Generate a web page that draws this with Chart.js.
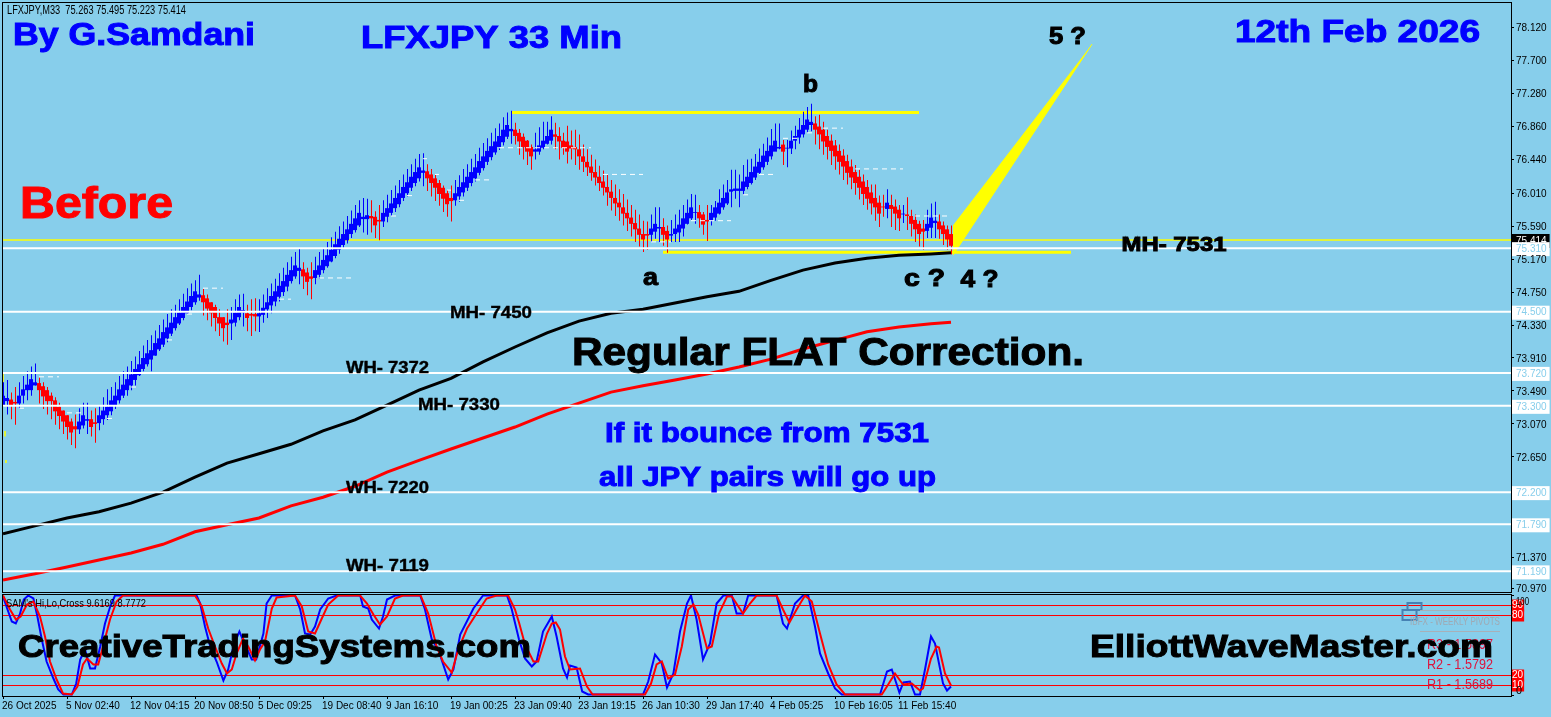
<!DOCTYPE html>
<html><head><meta charset="utf-8"><title>LFXJPY 33 Min</title>
<script src="https://cdn.jsdelivr.net/npm/chart.js@4/dist/chart.umd.min.js"></script>
<style>
html,body{margin:0;padding:0;background:#87CEEB;overflow:hidden}
#wrap{position:relative;width:1551px;height:717px;background:#87CEEB}
canvas{position:absolute;left:0;top:0}
</style></head><body><div id="wrap"><canvas id="main" width="1551" height="717"></canvas><canvas id="osc" width="1551" height="717"></canvas></div>
<script>
const highs=[73.60,73.63,73.47,73.54,73.60,73.68,73.74,73.80,73.84,73.66,
73.60,73.54,73.47,73.41,73.34,73.24,73.18,73.14,73.19,73.27,
73.34,73.34,73.24,73.27,73.31,73.41,73.51,73.54,73.60,73.68,
73.74,73.80,73.87,73.93,74.00,74.07,74.14,74.20,74.26,74.33,
74.40,74.47,74.53,74.59,74.66,74.73,74.80,74.86,74.90,74.97,
74.79,74.72,74.62,74.59,74.53,74.43,74.53,74.56,74.66,74.72,
74.73,74.59,74.66,74.67,74.66,74.72,74.80,74.86,74.92,74.99,
75.06,75.13,75.20,75.26,75.30,75.13,75.06,75.13,75.20,75.26,
75.30,75.39,75.45,75.52,75.59,75.65,75.72,75.79,75.86,75.92,
75.95,75.94,75.92,75.78,75.86,75.92,75.99,76.05,76.11,76.18,
76.25,76.32,76.38,76.45,76.51,76.52,76.38,76.32,76.25,76.18,
76.11,76.05,76.11,76.18,76.24,76.32,76.38,76.45,76.51,76.59,
76.65,76.71,76.78,76.84,76.90,76.98,77.04,77.06,76.91,76.83,
76.77,76.69,76.63,76.78,76.85,76.92,76.92,76.99,76.91,76.85,
76.78,76.87,76.81,76.82,76.76,76.63,76.57,76.50,76.44,76.36,
76.30,76.25,76.18,76.12,76.06,76.00,75.93,75.86,75.80,75.74,
75.66,75.65,75.74,75.83,75.83,75.69,75.60,75.67,75.74,75.80,
75.86,75.93,76.00,75.99,75.86,75.77,75.86,75.86,75.91,76.06,
76.12,76.18,76.31,76.31,76.25,76.37,76.44,76.45,76.51,76.58,
76.64,76.72,76.83,76.90,76.90,76.69,76.69,76.81,76.87,76.97,
77.05,77.11,77.15,76.99,77.01,76.92,76.82,76.76,76.69,76.63,
76.57,76.50,76.44,76.37,76.31,76.25,76.18,76.12,76.12,75.98,
75.99,76.06,75.99,75.93,75.86,75.86,75.96,75.80,75.74,75.66,
75.67,75.80,75.88,75.90,75.74,75.65,75.60,75.60];
const lows=[73.29,73.19,73.13,73.06,73.26,73.33,73.37,73.43,73.56,73.33,
73.26,73.19,73.13,73.06,73.00,72.94,72.87,72.80,72.76,72.94,
73.01,72.94,72.91,72.83,72.99,73.06,73.12,73.18,73.26,73.33,
73.40,73.43,73.50,73.56,73.68,73.74,73.80,73.74,73.94,74.00,
74.05,74.11,74.19,74.26,74.33,74.39,74.47,74.52,74.59,74.64,
74.45,74.39,74.31,74.25,74.19,74.12,74.08,74.14,74.31,74.39,
74.31,74.25,74.19,74.25,74.24,74.36,74.42,74.48,74.57,74.63,
74.70,74.76,74.86,74.92,74.85,74.79,74.71,74.66,74.85,74.92,
74.99,75.06,75.13,75.18,75.24,75.31,75.37,75.44,75.51,75.58,
75.51,75.48,75.51,75.44,75.41,75.58,75.64,75.72,75.77,75.83,
75.91,75.97,76.04,76.10,76.16,76.10,76.04,75.97,75.91,75.85,
75.77,75.71,75.65,75.85,75.90,75.97,76.04,76.10,76.16,76.24,
76.30,76.37,76.43,76.50,76.56,76.62,76.70,76.64,76.63,76.50,
76.44,76.37,76.31,76.44,76.50,76.57,76.63,76.63,76.57,76.44,
76.50,76.39,76.44,76.37,76.31,76.28,76.23,76.17,76.11,76.04,
75.98,75.85,75.79,75.72,75.66,75.60,75.53,75.46,75.39,75.33,
75.26,75.29,75.39,75.43,75.39,75.34,75.25,75.39,75.39,75.39,
75.46,75.61,75.67,75.62,75.57,75.48,75.40,75.60,75.66,75.74,
75.80,75.86,75.83,75.94,75.83,75.99,76.06,76.12,76.18,76.25,
76.31,76.37,76.44,76.57,76.57,76.37,76.34,76.51,76.57,76.64,
76.72,76.78,76.80,76.63,76.57,76.50,76.44,76.37,76.31,76.25,
76.18,76.12,76.06,75.99,75.93,75.86,75.80,75.74,75.66,75.58,
75.71,75.69,75.58,75.54,75.53,75.63,75.54,75.46,75.39,75.33,
75.29,75.44,75.44,75.44,75.43,75.35,75.29,75.23];
const bodyHigh=[73.43,73.40,73.38,73.35,73.43,73.51,73.57,73.64,73.60,73.59,
73.55,73.50,73.43,73.37,73.29,73.24,73.18,73.10,73.04,73.10,
73.18,73.13,73.13,73.09,73.18,73.24,73.29,73.37,73.43,73.51,
73.57,73.64,73.70,73.77,73.83,73.91,73.97,74.01,74.10,74.16,
74.24,74.30,74.36,74.43,74.49,74.56,74.63,74.70,74.76,74.72,
74.71,74.67,74.62,74.56,74.43,74.43,74.36,74.40,74.49,74.56,
74.52,74.48,74.47,74.47,74.48,74.55,74.62,74.70,74.76,74.83,
74.89,74.97,75.03,75.09,75.06,75.04,75.00,74.95,75.03,75.09,
75.16,75.22,75.29,75.36,75.43,75.49,75.55,75.62,75.69,75.76,
75.71,75.73,75.72,75.71,75.67,75.76,75.82,75.88,75.95,76.01,
76.09,76.15,76.22,76.28,76.34,76.30,76.29,76.25,76.20,76.14,
76.08,76.01,75.95,76.01,76.09,76.15,76.22,76.28,76.34,76.42,
76.48,76.55,76.61,76.67,76.74,76.82,76.88,76.83,76.82,76.78,
76.73,76.68,76.60,76.57,76.62,76.68,76.74,76.82,76.76,76.74,
76.68,76.67,76.62,76.60,76.57,76.48,76.41,76.35,76.28,76.22,
76.16,76.09,76.03,75.95,75.89,75.83,75.76,75.70,75.63,75.56,
75.49,75.49,75.56,75.62,75.58,75.58,75.53,75.49,75.56,75.61,
75.69,75.76,75.83,75.77,75.77,75.74,75.67,75.76,75.83,75.89,
75.95,76.02,76.06,76.07,76.07,76.16,76.22,76.28,76.35,76.41,
76.49,76.55,76.62,76.68,76.60,76.63,76.59,76.68,76.74,76.82,
76.88,76.95,76.92,76.90,76.86,76.82,76.74,76.68,76.62,76.55,
76.49,76.42,76.35,76.28,76.22,76.16,76.09,76.02,75.95,75.89,
75.84,75.89,75.86,75.84,75.80,75.75,75.74,75.72,75.67,75.62,
75.56,75.62,75.70,75.66,75.65,75.60,75.55,75.49];
const bodyLow=[73.31,73.36,73.31,73.33,73.33,73.43,73.50,73.50,73.56,73.50,
73.42,73.36,73.36,73.23,73.17,73.10,73.03,72.96,73.00,73.00,
73.05,73.11,73.03,73.07,73.08,73.13,73.18,73.23,73.31,73.37,
73.43,73.50,73.56,73.63,73.69,73.77,73.83,73.89,73.94,74.02,
74.08,74.16,74.22,74.29,74.35,74.42,74.48,74.56,74.62,74.68,
74.62,74.54,74.48,74.42,74.35,74.29,74.33,74.35,74.36,74.43,
74.49,74.42,74.45,74.44,74.44,74.46,74.53,74.58,74.63,74.69,
74.75,74.82,74.89,74.95,75.02,74.95,74.88,74.92,74.93,74.97,
75.03,75.08,75.14,75.21,75.29,75.35,75.41,75.49,75.54,75.60,
75.68,75.68,75.69,75.60,75.65,75.65,75.71,75.76,75.82,75.87,
75.95,76.01,76.08,76.14,76.20,76.27,76.20,76.14,76.08,76.00,
75.94,75.87,75.91,75.92,75.97,76.02,76.08,76.14,76.20,76.27,
76.33,76.41,76.47,76.53,76.60,76.66,76.73,76.80,76.74,76.67,
76.60,76.54,76.48,76.54,76.54,76.59,76.64,76.68,76.73,76.67,
76.59,76.54,76.58,76.57,76.48,76.41,76.34,76.27,76.21,76.14,
76.08,76.02,75.95,75.88,75.83,75.75,75.69,75.62,75.55,75.48,
75.42,75.47,75.48,75.52,75.56,75.48,75.42,75.47,75.49,75.51,
75.56,75.62,75.69,75.76,75.69,75.61,75.65,75.66,75.70,75.75,
75.83,75.88,76.03,76.04,76.04,76.04,76.09,76.14,76.21,76.27,
76.34,76.41,76.48,76.54,76.58,76.54,76.58,76.58,76.68,76.72,
76.76,76.82,76.88,76.82,76.76,76.67,76.60,76.55,76.48,76.41,
76.35,76.27,76.21,76.14,76.08,76.00,75.94,75.88,75.83,75.75,
75.83,75.81,75.81,75.75,75.69,75.74,75.72,75.62,75.55,75.49,
75.52,75.53,75.57,75.63,75.55,75.49,75.42,75.34];
const bearRuns=[[2,3],[9,18],[22,23],[50,56],[61,63],[75,77],[92,94],[106,112],[128,132],[138,161],[165,166],[174,176],[195,195],[203,220],[222,224],[226,230],[234,237]];

const maBars=[0,8,16,24,32,40,48,56,64,72,80,88,96,104,112,120,128,136,144,152,160,168,176,184,192,200,208,216,224,232,237];
const blackMA=[71.67,71.77,71.87,71.95,72.06,72.20,72.39,72.57,72.69,72.81,72.98,73.12,73.31,73.50,73.65,73.86,74.05,74.23,74.38,74.48,74.53,74.61,74.69,74.76,74.90,75.03,75.12,75.18,75.22,75.235,75.25];
const redMA=[71.08,71.16,71.245,71.335,71.425,71.535,71.695,71.785,71.87,72.025,72.135,72.275,72.455,72.605,72.75,72.89,73.03,73.195,73.335,73.475,73.555,73.63,73.705,73.795,73.895,74.025,74.135,74.245,74.305,74.345,74.365];

const whiteLevels=[75.31,74.50,73.72,73.30,72.20,71.79,71.19];
const bidLevel=75.414;
const flatTopSeg=[[127.2,77.04],[229,77.04]];
const flatBotSeg=[[165,75.257],[267,75.257]];
const wedgeUpper=[[236.25,75.52],[272.25,77.91]];
const wedgeLower=[[237.5,75.22],[272.25,77.91]];
const yellowMarks=[[0,73.72,73.60],[0.5,72.98,72.91],[0.75,72.61,72.57]];
// [first bar, last bar, price]
const dashes=[[9,14,73.67],[4,6,73.27],[16,20,73.21],[26,28,73.14],[32,34,73.54],[41,43,74.14],[46,48,74.47],[50,55,74.80],[69,72,74.66],[79,87,74.93],[97,99,75.72],[101,103,75.98],[105,106,76.45],[108,109,76.25],[111,112,76.05],[114,116,75.92],[118,122,76.18],[124,147,76.59],[150,160,76.25],[162,167,75.39],[172,182,75.66],[185,187,75.99],[189,193,76.25],[195,199,76.71],[201,203,76.78],[205,210,76.84],[213,225,76.32],[228,236,75.72]];

const priceTicks=[78.12,77.70,77.28,76.86,76.44,76.01,75.59,75.414,75.31,75.17,74.75,74.50,74.33,73.91,73.72,73.49,73.30,73.07,72.65,72.20,71.79,71.37,71.19,70.97];
const boxedTicks=[75.31,74.50,73.72,73.30,72.20,71.79,71.19];
const timeLabels=["26 Oct 2025","5 Nov 02:40","12 Nov 04:15","20 Nov 08:50","5 Dec 09:25","19 Dec 08:40","9 Jan 16:10","19 Jan 00:25","23 Jan 09:40","23 Jan 19:15","26 Jan 10:30","29 Jan 17:40","4 Feb 05:25","10 Feb 16:05","11 Feb 15:40"];

const kBars=[0,1.3,2.2,3.2,4.2,5.2,6.3,7.6,8.6,9.7,10.9,12.6,13.8,15.1,17.2,18.3,19.3,20.5,21.8,23,24.3,25.5,26.8,28,29.3,48.4,49.3,50.5,51.8,53.4,55.1,56.3,57.6,59.1,60.5,62.2,63.3,65.1,65.9,67.2,73,74.3,75.5,76.8,78,79.3,81.3,83.4,89.3,90,91.3,92.2,94,95,96,98,104.3,105.5,107.2,108.8,111.3,112.6,114.3,117.6,120,126,127.2,129,130.5,132.2,133.4,135,137.2,138.4,140,141,141.75,143.4,144.8,146.3,160,161.3,163,164.7,166,167.6,169.25,171,172,173.4,175,176.75,178.4,180.1,182.2,183.4,185,186.3,188.4,193.4,195,196,198,200,201.3,203,204.25,206.3,208,209.7,219.25,221,222.2,224.1,225.1,226.75,228,229.25,230.5,232,233,235,236,237];
const kValues=[99,84,74,72,81,96,100,97,79,56,34,17,6,1,1,12,36,46,27,27,49,72,89,100,100,100,92,69,49,34,15,26,49,64,51,36,36,62,92,100,100,86,62,61,69,86,97,100,100,89,87,76,67,79,96,100,100,86,56,46,16,26,61,87,100,100,86,56,37,29,34,64,79,59,27,18,30,28,4,1,1,14,41,32,8,22,64,92,100,76,36,52,92,100,100,82,82,100,100,100,72,67,92,100,100,69,42,22,7,1,1,24,26,3,13,14,1,1,26,59,52,12,5,9];
const dBars=[0,1.75,3.25,4.4,6,7.6,9.25,10.5,11.75,13.4,15,17.2,18.6,20,21,22.6,23.8,25,26.75,28.4,30,48,49.7,51.3,53,54.7,56,57.2,58.4,60,61.3,63,64.25,65.5,67.2,68.4,73,74.7,76.3,78,79.7,81.3,83.8,89.25,91,92.6,94.25,96,98,100,104.4,106.3,108.4,110,112.2,113.8,116,118.4,120.9,123.4,126.3,128,129,130.5,132.6,133.8,136,137.2,138.2,139.25,140.5,141.75,144.25,146,147.4,160.5,162,163.4,164.7,166.3,168,169.7,171.3,172.6,173.8,176,177.2,179,181,182.2,185,186.75,188.4,193.4,195,196.6,198.4,200.5,202.2,204.25,206.3,208.4,210.5,219.7,221.3,223,225,227.2,229.25,230,232,233.4,234,235.5,237];
const dValues=[100,86,76,79,91,94,79,59,34,16,2,1,9,31,37,31,31,49,76,94,100,100,89,67,49,32,22,26,42,57,49,35,46,54,87,98,100,89,64,62,77,91,100,100,92,81,71,79,97,100,100,82,49,34,23,46,67,82,97,100,100,86,73,51,34,34,62,72,73,66,39,26,27,9,1,1,12,31,34,17,21,49,86,91,81,47,49,82,99,99,82,92,100,100,86,73,86,100,94,62,31,11,1,1,11,22,11,12,5,7,37,49,48,22,10];
const oscLevels=[90,80,20,10];

const BG='#87CEEB', FONT='"Liberation Sans"';
const mainTexts=[
 ["LFXJPY,M33  75.263 75.495 75.223 75.414",7,14,12,179,'#000',false],
 ["By G.Samdani",13,45,31,242,'#0000ff',true],
 ["LFXJPY 33 Min",361,48,32,261,'#0000ff',true],
 ["12th Feb 2026",1235,42,31,245,'#0000ff',true],
 ["5 ?",1049,43.5,23,37,'#000',true],
 ["b",803,92,23,15,'#000',true],
 ["Before",20,218,44,153,'#ff0000',true],
 ["a",643,285,23,15,'#000',true],
 ["c ?",904,285.5,23,41,'#000',true],
 ["4 ?",960.5,286.5,23,38,'#000',true],
 ["MH- 7531",1121.5,250.5,21,105,'#000',true],
 ["MH- 7450",450,317.5,16,82,'#000',true],
 ["WH- 7372",346,372.5,16,83,'#000',true],
 ["MH- 7330",418,410,16,82,'#000',true],
 ["WH- 7220",346,492.5,16,83,'#000',true],
 ["WH- 7119",346,570.5,16,83,'#000',true],
 ["Regular FLAT Correction.",572,365,38,512,'#000',true],
 ["If it bounce from 7531",605,441.5,27,324,'#0000ff',true],
 ["all JPY pairs will go up",599,486,27,337,'#0000ff',true]
];
const oscTexts=[
 ["SAM's Hi,Lo,Cross 9.6169 8.7772",6,606.5,11.5,140,'#000',false],
 ["IBFX - WEEKLY PIVOTS",1410,624.5,11,90,'#9fa9b3',false],
 ["R3 - 1.5897",1427,649,14,66,'#dc143c',false],
 ["R2 - 1.5792",1427,669,14,66,'#dc143c',false],
 ["R1 - 1.5689",1427,689,14,66,'#dc143c',false],
 ["CreativeTradingSystems.com",18,657,31,513,'#000',true],
 ["ElliottWaveMaster.com",1090,657,31,403,'#000',true],
 ["100",1516,605,10,13,'#000',false],
 ["0",1516,694,10,6,'#000',false]
];

function drawTexts(ctx,list){
 ctx.save();ctx.textBaseline='alphabetic';ctx.textAlign='left';
 for(const [t,x,y,size,w,color,bold] of list){
  ctx.font=(bold?'bold ':'')+size+'px '+FONT;
  const m=ctx.measureText(t).width;
  ctx.save();ctx.translate(x,y);ctx.scale(w/m,1);
  ctx.fillStyle=color;ctx.fillText(t,0,0);
  if(bold){ctx.strokeStyle=color;ctx.lineWidth=size>=20?1:.4;ctx.strokeText(t,0,0);}
  ctx.restore();
 }
 ctx.restore();
}
function frame(chart){
 const a=chart.chartArea,c=chart.ctx;
 c.save();c.strokeStyle='#000';c.lineWidth=1;
 c.strokeRect(a.left-.5,a.top-.5,a.right-a.left+1,a.bottom-a.top+1);
 c.restore();
}
const isBear=i=>bearRuns.some(r=>i>=r[0]&&i<=r[1]);
const bars=highs.map((_,i)=>i);
const WICK_SHIFT=0.125;
const lineDefaults={pointRadius:0,pointHoverRadius:0,tension:0,spanGaps:false,type:'line'};
const pairs=a=>a.map(p=>({x:p[0],y:p[1]}));
const levelLine=(y,color,w,order)=>({...lineDefaults,data:[{x:0,y},{x:377,y}],borderColor:color,borderWidth:w,order});
const dashData=[];dashes.forEach(d=>{dashData.push({x:d[0],y:d[2]},{x:d[1],y:d[2]},{x:d[1],y:null});});
const markData=[];yellowMarks.forEach(d=>{markData.push({x:d[0],y:d[1]},{x:d[0],y:d[2]},{x:d[0],y:null});});

const Y_AXIS_W=40;
const fitY=s=>{s.width=Y_AXIS_W;s.paddingTop=0;s.paddingBottom=0;};
new Chart(document.getElementById('main'),{
 data:{datasets:[
  {...lineDefaults,data:pairs(wedgeUpper),borderWidth:0,borderColor:'#ffff00',order:12},
  {...lineDefaults,data:pairs(wedgeLower),borderWidth:1,borderColor:'#ffff00',backgroundColor:'#ffff00',fill:'-1',order:11},
  levelLine(bidLevel,'#ffff00',1.6,10),
  {...lineDefaults,data:pairs(flatTopSeg),borderColor:'#ffff00',borderWidth:3,order:10},
  {...lineDefaults,data:pairs(flatBotSeg),borderColor:'#ffff00',borderWidth:3,order:10},
  {...lineDefaults,data:markData,borderColor:'#ffff00',borderWidth:1.5,order:10},
  {type:'bar',stack:'c',data:bars.map(i=>({x:i+WICK_SHIFT,y:[lows[i],highs[i]]})),backgroundColor:bars.map(i=>isBear(i)?'#ff0000':'#0000ff'),barThickness:1,inflateAmount:0,order:8},
  {type:'bar',stack:'c',data:bars.map(i=>({x:i,y:[bodyLow[i],bodyHigh[i]]})),backgroundColor:bars.map(i=>isBear(i)?'#ff0000':'#0000ff'),barThickness:4,inflateAmount:0,order:7},
  {...lineDefaults,data:dashData,borderColor:'#ffffff',borderWidth:1,borderDash:[5,4],order:6},
  {...lineDefaults,data:maBars.map((b,i)=>({x:b,y:blackMA[i]})),borderColor:'#000',borderWidth:3,order:5},
  {...lineDefaults,data:maBars.map((b,i)=>({x:b,y:redMA[i]})),borderColor:'#ff0000',borderWidth:3,order:5},
  ...whiteLevels.map(y=>levelLine(y,'#ffffff',2,3))
 ]},
 options:{responsive:false,animation:false,events:[],
  layout:{padding:{left:3,top:3,right:0,bottom:125}},
  plugins:{legend:{display:false},tooltip:{enabled:false}},
  scales:{
   x:{type:'linear',min:0,max:377,display:false,offset:false},
   y:{type:'linear',position:'right',min:70.927,max:78.435,stacked:false,
    afterBuildTicks:s=>{s.ticks=priceTicks.map(value=>({value}));},
    afterFit:fitY,
    grid:{drawOnChartArea:false,drawTicks:true,tickLength:3,tickColor:'#000'},
    border:{display:false},
    ticks:{autoSkip:false,padding:2,labelOffset:1,font:{family:FONT,size:10},
     callback:v=>v.toFixed(3),
     color:c=>{const v=c.tick.value;return v===bidLevel?'#ffffff':boxedTicks.includes(v)?'#87CEEB':'#000';},
     showLabelBackdrop:true,
     backdropColor:c=>{const v=c.tick.value;return v===bidLevel?'#000':boxedTicks.includes(v)?'#fff':'rgba(0,0,0,0)';},
     backdropPadding:{left:4,right:3,top:1,bottom:1}}
   }
  }},
 plugins:[{id:'deco',beforeDatasetsDraw:frame,afterDraw(ch){drawTexts(ch.ctx,mainTexts);}}]
});

new Chart(document.getElementById('osc'),{
 data:{datasets:[
  ...oscLevels.map(y=>({...lineDefaults,data:[{x:0,y},{x:377,y}],borderColor:'#ff0000',borderWidth:1,order:4})),
  {...lineDefaults,data:kBars.map((b,i)=>({x:b,y:kValues[i]})),borderColor:'#0000ff',borderWidth:2,order:3},
  {...lineDefaults,data:dBars.map((b,i)=>({x:b,y:dValues[i]})),borderColor:'#ff0000',borderWidth:2,order:2}
 ]},
 options:{responsive:false,animation:false,events:[],
  layout:{padding:{left:3,top:595,right:0,bottom:0}},
  plugins:{legend:{display:false},tooltip:{enabled:false}},
  scales:{
   x:{type:'linear',min:0,max:377,position:'bottom',
    afterBuildTicks:s=>{s.ticks=timeLabels.map((_,i)=>({value:i*16}));},
    afterFit:s=>{s.height=21;},
    grid:{drawOnChartArea:false,tickLength:3,tickColor:'#000'},
    border:{display:false},
    ticks:{autoSkip:false,maxRotation:0,minRotation:0,align:'start',padding:1,labelOffset:-1,font:{family:FONT,size:10},color:'#000',
     callback:v=>timeLabels[v/16]}
   },
   y:{type:'linear',position:'right',min:-0.5,max:100.5,
    afterBuildTicks:s=>{s.ticks=[100,90,80,20,10,0].map(value=>({value}));},
    afterFit:fitY,
    grid:{drawOnChartArea:false,tickLength:3,tickColor:'#000'},
    border:{display:false},
    ticks:{autoSkip:false,padding:-2,font:{family:FONT,size:10},
     callback:v=>(v===100||v===0)?'':String(v),
     color:'#fff',showLabelBackdrop:true,
     backdropColor:c=>[90,80,20,10].includes(c.tick.value)?'#ff0000':'rgba(0,0,0,0)',
     backdropPadding:{left:1,right:1,top:0,bottom:0}}
   }
  }},
 plugins:[{id:'deco2',beforeDatasetsDraw:frame,afterDraw(ch){
   const c=ch.ctx;c.save();
   c.strokeStyle='#4682b4';c.lineWidth=2;c.strokeRect(1407.5,603,14,7);c.strokeRect(1402.5,610,14,10);
   c.strokeStyle='#a8b0b8';c.lineWidth=1;
   c.beginPath();c.moveTo(1420,610.5);c.lineTo(1500,610.5);c.moveTo(1420,631.5);c.lineTo(1500,631.5);c.stroke();
   c.restore();
   drawTexts(c,oscTexts);
 }}]
});
</script></body></html>
